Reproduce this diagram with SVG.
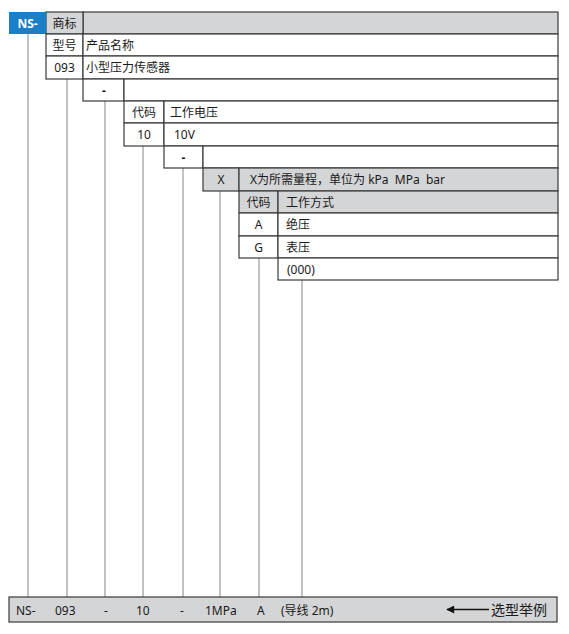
<svg xmlns="http://www.w3.org/2000/svg" width="569" height="634" viewBox="0 0 569 634">
<defs>
<style>
.c{fill:#ffffff;stroke:#3a3a3a;stroke-width:1.2}
.g{fill:#d4d5d6;stroke:#3a3a3a;stroke-width:1.2}
.t{font-family:"Noto Sans","Noto Sans CJK SC",sans-serif;font-size:12px;fill:#1a1a1a;white-space:pre}
.m{text-anchor:middle}
.conn line{stroke:#c2c2c4;stroke-width:2}
</style>
<marker id="ah" viewBox="0 0 10 10" refX="9" refY="5" markerWidth="11" markerHeight="8" markerUnits="userSpaceOnUse" orient="auto">
<path d="M0,0 L10,5 L0,10 Z" fill="#111"/>
</marker>
</defs>
<rect width="569" height="634" fill="#ffffff"/>

<g id="connectors" class="conn">
<line x1="28" y1="34" x2="28" y2="597"/>
<line x1="67" y1="79" x2="67" y2="597"/>
<line x1="105" y1="101" x2="105" y2="597"/>
<line x1="143" y1="146" x2="143" y2="597"/>
<line x1="183" y1="168" x2="183" y2="597"/>
<line x1="220" y1="191" x2="220" y2="597"/>
<line x1="259" y1="258" x2="259" y2="597"/>
<line x1="302" y1="280" x2="302" y2="597"/>
</g>

<g id="row-brand">
<rect x="83" y="12" width="475" height="22" class="g"/>
<rect x="46" y="12" width="37" height="22" class="g"/>
<rect x="9" y="12" width="37" height="22" fill="#1a7fc6"/>
<text x="27.5" y="28" class="t m" style="fill:#fff;font-weight:bold">NS-</text>
<text x="64.5" y="28" class="t m">商标</text>
</g>

<g id="row-model-head">
<rect x="46" y="34" width="37" height="22" class="c"/>
<rect x="83" y="34" width="475" height="22" class="c"/>
<text x="64.5" y="50" class="t m">型号</text>
<text x="86" y="50" class="t">产品名称</text>
</g>

<g id="row-model">
<rect x="46" y="56" width="37" height="23" class="c"/>
<rect x="83" y="56" width="475" height="23" class="c"/>
<text x="64.5" y="72" class="t m">093</text>
<text x="86" y="72" class="t">小型压力传感器</text>
</g>

<g id="row-dash1">
<rect x="83" y="79" width="41" height="22" class="c"/>
<rect x="124" y="79" width="434" height="22" class="c"/>
<text x="104" y="95" class="t m" style="font-weight:bold">-</text>
</g>

<g id="row-voltage-head">
<rect x="124" y="101" width="40" height="22" class="c"/>
<rect x="164" y="101" width="394" height="22" class="c"/>
<text x="144" y="117" class="t m">代码</text>
<text x="170" y="117" class="t">工作电压</text>
</g>

<g id="row-voltage">
<rect x="124" y="123" width="40" height="23" class="c"/>
<rect x="164" y="123" width="394" height="23" class="c"/>
<text x="144" y="139" class="t m">10</text>
<text x="174" y="139" class="t">10V</text>
</g>

<g id="row-dash2">
<rect x="164" y="146" width="39" height="22" class="c"/>
<rect x="203" y="146" width="355" height="22" class="c"/>
<text x="183.5" y="162" class="t m" style="font-weight:bold">-</text>
</g>

<g id="row-range">
<rect x="203" y="168" width="36" height="23" class="g"/>
<rect x="239" y="168" width="319" height="23" class="g"/>
<text x="221" y="184" class="t m">X</text>
<text x="250" y="184" class="t" xml:space="preserve">X为所需量程，单位为 kPa  MPa  bar</text>
</g>

<g id="row-mode-head">
<rect x="239" y="191" width="39" height="22" class="g"/>
<rect x="278" y="191" width="280" height="22" class="g"/>
<text x="258.5" y="207" class="t m">代码</text>
<text x="286" y="207" class="t">工作方式</text>
</g>

<g id="row-mode-a">
<rect x="239" y="213" width="39" height="23" class="c"/>
<rect x="278" y="213" width="280" height="23" class="c"/>
<text x="258.5" y="229" class="t m">A</text>
<text x="286" y="229" class="t">绝压</text>
</g>

<g id="row-mode-g">
<rect x="239" y="236" width="39" height="22" class="c"/>
<rect x="278" y="236" width="280" height="22" class="c"/>
<text x="258.5" y="252" class="t m">G</text>
<text x="286" y="252" class="t">表压</text>
</g>

<g id="row-cable">
<rect x="278" y="258" width="280" height="22" class="c"/>
<text x="287" y="274" class="t">(000)</text>
</g>

<g id="example">
<rect x="9" y="597" width="548" height="25" class="g"/>
<text x="16" y="615" class="t">NS-</text>
<text x="55" y="615" class="t">093</text>
<text x="104" y="615" class="t">-</text>
<text x="136" y="615" class="t">10</text>
<text x="180" y="615" class="t">-</text>
<text x="205" y="615" class="t">1MPa</text>
<text x="257" y="615" class="t">A</text>
<text x="281" y="615" class="t">(导线 2m)</text>
<line x1="489" y1="609.5" x2="447" y2="609.5" stroke="#111" stroke-width="1.6" marker-end="url(#ah)"/>
<text x="491" y="615" class="t" style="font-size:14px">选型举例</text>
</g>
</svg>
